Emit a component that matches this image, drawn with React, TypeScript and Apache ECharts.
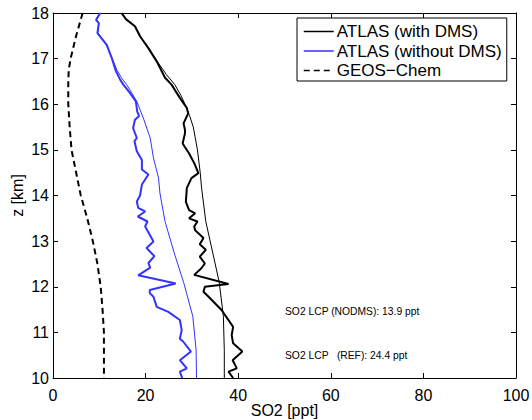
import React, { useEffect, useRef } from "react";
import * as echarts from "echarts";

// [SO2 ppt, altitude km]
const atlasWithDms: number[][] = [
  [14.8, 18.0], [15.8, 17.86], [17.7, 17.71], [18.8, 17.49], [20.6, 17.23], [22.4, 16.94],
  [24.2, 16.58], [25.6, 16.43], [27.4, 16.14], [28.9, 15.92], [29.2, 15.8], [28.2, 15.58],
  [28.5, 15.44], [28.5, 15.36], [28.0, 15.14], [29.4, 14.92], [30.5, 14.71], [31.4, 14.49],
  [29.9, 14.38], [28.9, 14.16], [28.7, 13.86], [29.4, 13.68], [30.7, 13.61], [29.4, 13.5],
  [31.2, 13.43], [30.5, 13.32], [30.7, 13.24], [32.5, 13.07], [31.7, 12.93], [33.0, 12.81],
  [31.7, 12.66], [32.8, 12.51], [32.0, 12.4], [30.5, 12.26], [37.9, 12.06], [32.8, 12.0],
  [32.5, 11.89], [33.6, 11.78], [36.4, 11.49], [37.9, 11.27], [38.9, 11.12], [38.6, 10.94],
  [38.9, 10.76], [40.9, 10.58], [38.8, 10.39], [39.7, 10.21], [37.9, 10.14], [38.9, 10.0],
];

const atlasWithDmsSmooth: number[][] = [
  [14.8, 18.0], [15.8, 17.86], [17.7, 17.71], [18.8, 17.49], [20.6, 17.23], [22.5, 16.94],
  [24.5, 16.65], [26.3, 16.43], [27.6, 16.2], [28.5, 16.0], [29.5, 15.75], [30.3, 15.5],
  [31.2, 15.0], [31.8, 14.5], [32.1, 14.16], [33.0, 13.43], [34.6, 12.7], [35.9, 12.1],
  [36.8, 11.35], [37.0, 10.6], [37.0, 10.0],
];

const atlasNoDms: number[][] = [
  [10.2, 18.0], [9.3, 17.85], [9.9, 17.78], [9.6, 17.56], [11.6, 17.3], [12.7, 17.01],
  [13.6, 16.72], [14.5, 16.54], [15.2, 16.43], [16.6, 16.25], [17.9, 16.06], [18.2, 15.84],
  [18.6, 15.74], [17.7, 15.66], [17.3, 15.48], [18.1, 15.26], [17.6, 15.19], [18.1, 14.97],
  [19.2, 14.78], [19.2, 14.57], [20.6, 14.46], [19.2, 14.24], [18.8, 14.0], [18.1, 13.87],
  [18.4, 13.73], [19.9, 13.65], [18.3, 13.54], [20.4, 13.43], [19.9, 13.32], [21.7, 12.99],
  [20.2, 12.85], [21.9, 12.67], [20.6, 12.52], [21.0, 12.42], [18.4, 12.25], [26.5, 12.07],
  [20.9, 11.93], [20.9, 11.86], [21.7, 11.78], [22.4, 11.56], [24.9, 11.45], [27.4, 11.27],
  [27.8, 11.05], [27.4, 10.86], [28.1, 10.8], [29.8, 10.58], [27.4, 10.39], [28.9, 10.21],
  [27.4, 10.14], [27.9, 10.0],
];

const atlasNoDmsSmooth: number[][] = [
  [10.2, 18.0], [9.4, 17.85], [9.9, 17.78], [9.7, 17.56], [11.6, 17.3], [12.8, 17.0],
  [13.8, 16.75], [14.8, 16.58], [15.9, 16.43], [17.0, 16.25], [18.1, 16.06], [19.5, 15.7],
  [21.0, 15.26], [21.7, 14.82], [22.8, 14.38], [23.1, 14.05], [24.2, 13.43], [26.3, 12.7],
  [28.2, 12.1], [30.2, 11.35], [30.9, 10.62], [31.0, 10.0],
];

const geosChem: number[][] = [
  [6.4, 18.0], [5.0, 17.5], [3.8, 17.0], [3.4, 16.75], [3.3, 16.5], [3.3, 16.0],
  [3.6, 15.5], [4.0, 15.0], [5.0, 14.5], [6.0, 14.0], [7.4, 13.5], [8.6, 13.0],
  [9.6, 12.5], [10.3, 12.0], [10.7, 11.5], [11.0, 11.0], [11.0, 10.5], [11.0, 10.0],
];

const legendNames = ["ATLAS (with DMS)", "ATLAS (without DMS)", "GEOS\u2212Chem"];
const annotations = ["SO2 LCP (NODMS): 13.9 ppt", "SO2 LCP   (REF): 24.4 ppt"];
const xAxisTitle = "SO2 [ppt]";
const yAxisTitle = "z [km]";

const FONT = "Liberation Sans, Arial, Helvetica, sans-serif";
const BLUE = "#3333ff";

export default function App() {
  const ref = useRef<HTMLDivElement>(null);
  useEffect(() => {
    if (!ref.current) return;
    const chart = echarts.init(ref.current, undefined, { renderer: "svg" });
    const axisCommon = {
      type: "value" as const,
      axisLine: { show: true, onZero: false, lineStyle: { color: "#000", width: 1 } },
      axisTick: { show: true, inside: true, length: 5, lineStyle: { color: "#000", width: 1 } },
      splitLine: { show: false },
    };
    chart.setOption({
      animation: false,
      backgroundColor: "#fff",
      grid: {
        left: 53,
        right: 16,
        top: 13,
        bottom: 42,
        containLabel: false,
        outerBoundsMode: "none",
      },
      xAxis: [
        {
          ...axisCommon,
          position: "bottom",
          min: 0,
          max: 100,
          interval: 20,
          name: xAxisTitle,
          nameLocation: "middle",
          nameGap: 24,
          nameMoveOverlap: false,
          nameTextStyle: { fontFamily: FONT, fontSize: 16, color: "#000" },
          axisLabel: { fontFamily: FONT, fontSize: 16, color: "#000", margin: 9 },
        },
        {
          ...axisCommon,
          position: "top",
          min: 0,
          max: 100,
          interval: 20,
          axisLabel: { show: false },
        },
      ],
      yAxis: [
        {
          ...axisCommon,
          position: "left",
          min: 10,
          max: 18,
          interval: 1,
          name: yAxisTitle,
          nameLocation: "middle",
          nameGap: 28,
          nameMoveOverlap: false,
          nameTextStyle: { fontFamily: FONT, fontSize: 16, color: "#000" },
          axisLabel: { fontFamily: FONT, fontSize: 16, color: "#000", margin: 4 },
        },
        {
          ...axisCommon,
          position: "right",
          min: 10,
          max: 18,
          interval: 1,
          axisLabel: { show: false },
        },
      ],
      legend: {
        data: legendNames,
        orient: "vertical",
        left: 297,
        top: 18,
        padding: [5, 5, 2, 6],
        itemGap: 2.5,
        itemWidth: 30,
        itemHeight: 18,
        backgroundColor: "#fff",
        borderColor: "#000",
        borderWidth: 1,
        borderRadius: 0,
        textStyle: { fontFamily: FONT, fontSize: 17, color: "#000", padding: [0, 0, 0, -2] },
        lineStyle: { width: 1.5 },
        itemStyle: { color: "transparent", borderWidth: 0, opacity: 0 },
      },
      graphic: [
        {
          type: "text",
          left: 285,
          top: 306,
          silent: true,
          style: { text: annotations[0], fontFamily: FONT, fontSize: 10.3, fill: "#000" },
        },
        {
          type: "text",
          left: 285,
          top: 350,
          silent: true,
          style: { text: annotations[1], fontFamily: FONT, fontSize: 10.3, fill: "#000" },
        },
      ],
      series: [
        {
          name: "ATLAS (with DMS) model",
          type: "line",
          data: atlasWithDmsSmooth,
          symbol: "none",
          lineStyle: { color: "#000", width: 1 },
          itemStyle: { color: "#000" },
        },
        {
          name: "ATLAS (without DMS) model",
          type: "line",
          data: atlasNoDmsSmooth,
          symbol: "none",
          lineStyle: { color: BLUE, width: 1 },
          itemStyle: { color: BLUE },
        },
        {
          name: legendNames[0],
          type: "line",
          data: atlasWithDms,
          symbol: "none",
          lineStyle: { color: "#000", width: 2 },
          itemStyle: { color: "#000" },
        },
        {
          name: legendNames[1],
          type: "line",
          data: atlasNoDms,
          symbol: "none",
          lineStyle: { color: BLUE, width: 2 },
          itemStyle: { color: BLUE },
        },
        {
          name: legendNames[2],
          type: "line",
          data: geosChem,
          symbol: "none",
          lineStyle: { color: "#000", width: 2, type: [6, 4] },
          itemStyle: { color: "#000" },
        },
      ],
    });
    return () => chart.dispose();
  }, []);
  return (
    <div
      ref={ref}
      style={{ position: "fixed", left: 0, top: 0, width: 532, height: 420, background: "#fff" }}
    />
  );
}
